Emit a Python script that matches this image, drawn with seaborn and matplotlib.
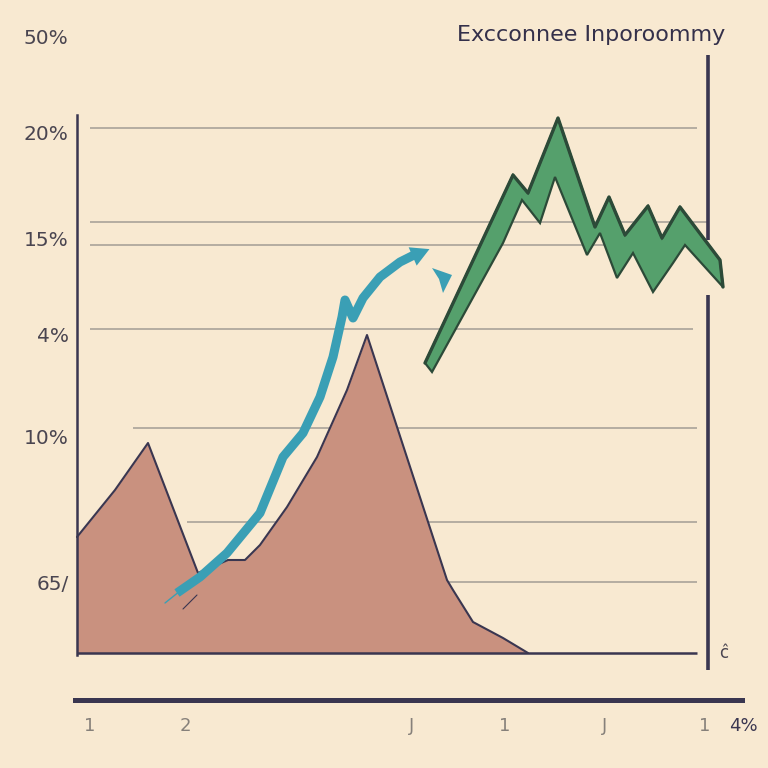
import numpy as np
import pandas as pd
import matplotlib
matplotlib.use("Agg")
import matplotlib.pyplot as plt
import seaborn as sns

# --- COLOURS ---
BG = '#F8E9D1'
INK = '#3A3650'
GRID = '#A39D94'
BROWN = '#C9917F'
GREEN = '#55A06C'
GREEN_EDGE = '#2C4A38'
BLUE = '#3A9FB5'

# --- DATA ---
# brown area (period, %)
area_x = [0, 3.8, 7.1, 12.1, 15.1, 16.8, 18.3, 21.0, 24.0, 27.0, 29.0, 37.0, 37.6, 39.6, 42.6, 45.1, 62.0]
area_y = [11.6, 16.3, 21.0, 8.0, 9.3, 9.3, 10.8, 14.6, 19.6, 26.3, 31.8, 7.3, 6.3, 3.1, 1.5, 0.0, 0.0]

# blue arrow
arrow_x = [10.0, 12.3, 15.0, 18.3, 20.6, 22.6, 24.3, 25.6, 26.5, 26.8, 27.6, 28.6, 30.3, 32.3, 34.1, 35.5]
arrow_y = [6.0, 7.6, 10.0, 14.0, 19.6, 22.0, 25.6, 29.6, 33.6, 35.3, 33.5, 35.5, 37.6, 39.1, 40.0, 40.5]
frag_x = [35.5, 37.5, 36.6, 36.2]
frag_y = [38.5, 37.8, 36.0, 37.4]

# green ribbon: upper edge and lower edge
green_up_x = [34.8, 43.6, 45.1, 48.1, 51.8, 53.2, 54.8, 57.1, 58.5, 60.3, 64.3, 64.6]
green_up_y = [29.0, 47.8, 46.0, 53.5, 42.6, 45.6, 41.8, 44.7, 41.5, 44.6, 39.3, 36.6]
green_lo_x = [35.5, 42.6, 44.5, 46.3, 47.8, 51.0, 52.3, 54.0, 55.6, 57.6, 59.6, 60.8, 64.6]
green_lo_y = [28.1, 41.0, 45.3, 43.0, 47.6, 39.8, 42.0, 37.5, 40.0, 36.1, 39.0, 40.8, 36.6]

# gridlines: level, start, end
grid_y = [52.5, 43.1, 40.8, 32.4, 22.5, 13.1, 7.1]
grid_x0 = [1.3, 1.3, 1.3, 1.3, 5.6, 11.0, 1.8]
grid_x1 = [62.0, 63.1, 62.3, 61.6, 62.0, 62.0, 62.0]

ytick_pos = [61.6, 52.0, 41.5, 31.8, 21.7, 7.1]
ytick_labels = ['50%', '20%', '15%', '4%', '10%', '65/']
xtick_pos = [1.3, 10.8, 33.5, 42.8, 52.8, 62.8, 66.6]
xtick_labels = ['1', '2', 'J', '1', 'J', '1', '4%']

title = 'Excconnee Inporoommy'

# --- PLOT ---
sns.set_theme(style='white', rc={'figure.facecolor': BG, 'axes.facecolor': BG})
plt.rcParams['font.family'] = ['DejaVu Sans']

fig = plt.figure(figsize=(7.68, 7.68), dpi=100)
ax = fig.add_axes([75 / 768, 1 - 700 / 768, 669 / 768, 680 / 768])
ax.set_xlim(-0.2, 66.7)
ax.set_ylim(-4.7, 63.3)

for y, x0, x1 in zip(grid_y, grid_x0, grid_x1):
    ax.hlines(y, x0, x1, color=GRID, lw=1.1, zorder=1)

# brown area
ax.fill_between(area_x, area_y, 0, color=BROWN, zorder=2, lw=0)
sns.lineplot(x=area_x[:-1], y=area_y[:-1], ax=ax, color=INK, lw=1.5, sort=False, zorder=3)
ax.hlines(0, 0, 62.0, color=INK, lw=1.8, zorder=3)

# blue arrow
sns.lineplot(x=arrow_x[:-1], y=arrow_y[:-1], ax=ax, color=BLUE, lw=6.5, sort=False,
             zorder=4, solid_capstyle='butt', solid_joinstyle='round')
ax.annotate('', xy=(arrow_x[-1], arrow_y[-1]), xytext=(arrow_x[-3], arrow_y[-3]),
            arrowprops=dict(arrowstyle='-|>,head_length=1.1,head_width=0.6', color=BLUE, lw=0),
            zorder=4)
ax.fill(frag_x, frag_y, color=BLUE, lw=0, zorder=4)
ax.plot([8.8, 10.3], [5.0, 6.2], color=BLUE, lw=1, zorder=4)
ax.plot([10.6, 12.0], [4.4, 5.8], color=INK, lw=0.8, zorder=4)

# green ribbon
poly_x = green_up_x + green_lo_x[::-1]
poly_y = green_up_y + green_lo_y[::-1]
ax.fill(poly_x, poly_y, facecolor=GREEN, edgecolor=GREEN_EDGE, lw=1.6, zorder=5,
        joinstyle='miter', clip_on=False)
sns.lineplot(x=green_up_x, y=green_up_y, ax=ax, color=GREEN_EDGE, lw=2.4, sort=False,
             zorder=6)

# right marker line
ax.vlines(63.1, 41.3, 59.8, color=INK, lw=2.6, clip_on=False, zorder=6)
ax.vlines(63.1, -1.7, 35.8, color=INK, lw=2.6, clip_on=False, zorder=6)
ax.text(64.2, 0.0, 'ĉ', fontsize=12, color='#4A4550', ha='left', va='center')

# spines
for s in ['top', 'right']:
    ax.spines[s].set_visible(False)
ax.spines['left'].set_position(('data', 0))
ax.spines['left'].set_bounds(-0.2, 53.8)
ax.spines['left'].set_color(INK)
ax.spines['left'].set_linewidth(1.8)
ax.spines['bottom'].set_bounds(-0.2, 66.5)
ax.spines['bottom'].set_color(INK)
ax.spines['bottom'].set_linewidth(3.6)

ax.set_yticks(ytick_pos)
ax.set_yticklabels(ytick_labels, fontsize=14.5, color='#4A4550')
ax.set_xticks(xtick_pos)
ax.set_xticklabels(xtick_labels, fontsize=13, color='#86807A')
ax.get_xticklabels()[-1].set_color('#3A3650')
ax.tick_params(axis='y', length=0, pad=6)
ax.tick_params(axis='x', length=0, pad=12)
ax.grid(False)

fig.text(725 / 768, 1 - 35 / 768, title, fontsize=16, color='#34304A', ha='right', va='center')

fig.savefig('out.png', dpi=100, facecolor=BG)
